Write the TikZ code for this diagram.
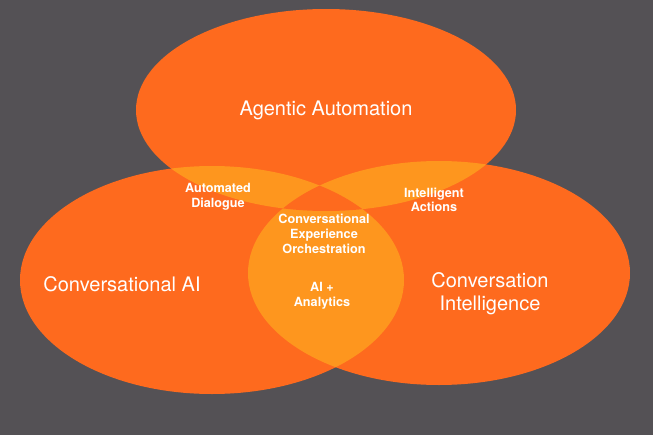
\documentclass[tikz,border=0pt]{standalone}
\usepackage{fontspec}
\setmainfont{TeX Gyre Heros}
\definecolor{bgGray}{HTML}{545155}
\definecolor{vennOrange}{HTML}{FE6A1E}
\definecolor{vennLight}{HTML}{FE961E}
\tikzset{
  big label/.style={text=white,font=\fontsize{15}{17}\selectfont,align=center},
  small label/.style={text=white,font=\bfseries\fontsize{9.5}{11}\selectfont,align=center},
}
\begin{document}
\begin{tikzpicture}[x=0.75pt,y=0.75pt]
  \fill[bgGray] (0,0) rectangle (653,-435);
  \useasboundingbox (0,0) rectangle (653,-435);
  \def\topE{(326,-110) ellipse [x radius=190,y radius=101]}
  \def\leftE{(212,-280) ellipse [x radius=192,y radius=114]}
  \def\rightE{(439,-273) ellipse [x radius=191,y radius=112]}
  % single sets
  \fill[vennOrange] \topE;
  \fill[vennOrange] \leftE;
  \fill[vennOrange] \rightE;
  % pairwise overlaps
  \begin{scope}\clip \topE; \fill[vennLight] \leftE;\end{scope}
  \begin{scope}\clip \topE; \fill[vennLight] \rightE;\end{scope}
  \begin{scope}\clip \leftE; \fill[vennLight] \rightE;\end{scope}
  % centre
  \begin{scope}\clip \topE; \clip \leftE; \fill[vennOrange] \rightE;\end{scope}
  \node[big label] (agentic) at (326,-110) {Agentic Automation};
  \node[big label] (convAI) at (122,-284) {Conversational AI};
  \node[big label] (convIntel) at (490,-294) {Conversation\\Intelligence};
  \node[small label] (dialogue) at (218,-197) {Automated\\Dialogue};
  \node[small label] (actions) at (434,-200) {Intelligent\\Actions};
  \node[small label] (orch) at (324,-234) {Conversational\\Experience\\Orchestration};
  \node[small label] (analytics) at (322,-296) {AI +\\Analytics};
\end{tikzpicture}
\end{document}
